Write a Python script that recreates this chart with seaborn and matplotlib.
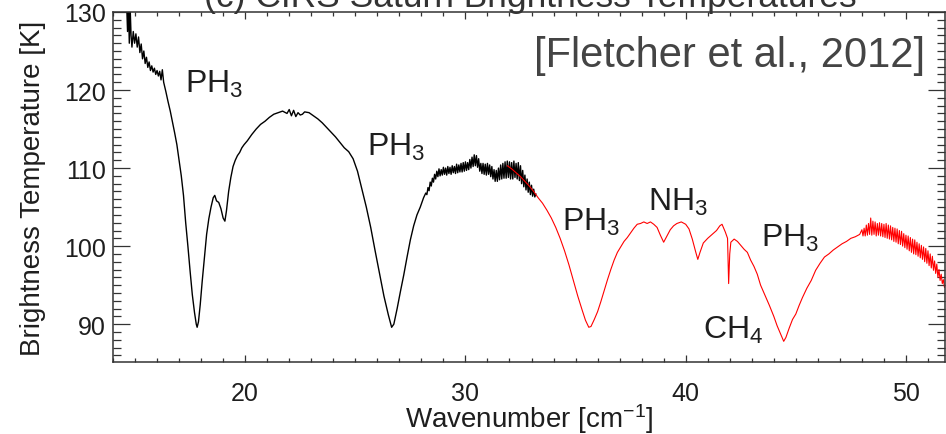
import matplotlib
matplotlib.use("Agg")
import matplotlib.pyplot as plt
from matplotlib.ticker import MultipleLocator
import seaborn as sns
import pandas as pd

# ---------------- data ----------------
# black spectrum, smooth part (incl. noisy start)
black_wn_a = [14.62, 14.66, 14.70, 14.74, 14.78, 14.82, 14.86, 14.92, 14.98, 15.04,
              15.10, 15.16, 15.22, 15.28, 15.34, 15.40, 15.46, 15.52, 15.58, 15.64,
              15.70, 15.76, 15.82, 15.88, 15.94, 16.00, 16.06, 16.12, 16.18, 16.24,
              16.30, 16.40, 16.50, 16.60, 16.70, 16.80, 16.90, 17.00, 17.10, 17.20,
              17.30, 17.40, 17.50, 17.60, 17.70, 17.78, 17.82, 17.88, 17.96, 18.05,
              18.15, 18.25, 18.35, 18.45, 18.55, 18.62, 18.70, 18.80, 18.90, 19.00,
              19.08, 19.15, 19.25, 19.35, 19.45, 19.55, 19.65, 19.75, 19.85, 19.95,
              20.10, 20.30, 20.50, 20.70, 20.90, 21.10, 21.30, 21.50, 21.70, 21.90,
              22.00, 22.10, 22.20, 22.30, 22.40, 22.50, 22.60, 22.70, 22.90, 23.10,
              23.30, 23.50, 23.70, 23.90, 24.10, 24.30, 24.50, 24.70, 24.90, 25.10,
              25.30, 25.50, 25.70, 25.90, 26.10, 26.30, 26.50, 26.65, 26.75, 26.90,
              27.05, 27.20, 27.35, 27.50, 27.65, 27.80, 27.95, 28.10]
black_tb_a = [131.0, 127.5, 131.0, 126.0, 130.5, 127.0, 125.5, 127.5, 126.0, 127.2,
              125.5, 126.8, 124.8, 125.9, 124.0, 125.0, 123.4, 124.2, 122.9, 123.6,
              122.5, 123.1, 122.3, 122.8, 122.0, 122.5, 121.8, 122.4, 121.3, 122.6,
              121.0, 119.8, 118.5, 117.3, 115.9, 114.5, 113.0, 111.0, 109.0, 106.5,
              103.0, 100.0, 96.8, 93.8, 91.5, 90.0, 89.6, 90.3, 92.5, 95.5,
              98.5, 101.5, 103.5, 105.0, 106.2, 106.5, 105.8, 105.6, 104.8, 103.6,
              103.2, 104.5, 107.0, 108.8, 110.2, 111.0, 111.6, 112.0, 112.6, 113.0,
              113.5, 114.3, 115.0, 115.6, 116.0, 116.5, 116.9, 117.1, 117.3, 117.0,
              117.5, 116.7, 117.4, 116.6, 117.1, 116.8, 116.9, 117.2, 117.1, 116.7,
              116.3, 115.8, 115.2, 114.6, 114.0, 113.3, 112.6, 112.1, 111.2, 109.6,
              107.3, 105.0, 102.4, 99.4, 96.5, 93.6, 91.2, 89.6, 90.0, 92.0,
              94.2, 96.3, 98.6, 100.8, 102.6, 104.0, 105.0, 106.2]
# black spectrum, noisy part 28.2 - 33.2
black_wn_b = [28.20, 28.25, 28.30, 28.35, 28.40, 28.45, 28.50, 28.55, 28.60, 28.65,
              28.70, 28.75, 28.80, 28.85, 28.90, 28.95, 29.00, 29.05, 29.10, 29.15,
              29.20, 29.25, 29.30, 29.35, 29.40, 29.45, 29.50, 29.55, 29.60, 29.65,
              29.70, 29.75, 29.80, 29.85, 29.90, 29.95, 30.00, 30.05, 30.10, 30.15,
              30.20, 30.25, 30.30, 30.35, 30.40, 30.45, 30.50, 30.55, 30.60, 30.65,
              30.70, 30.75, 30.80, 30.85, 30.90, 30.95, 31.00, 31.05, 31.10, 31.15,
              31.20, 31.25, 31.30, 31.35, 31.40, 31.45, 31.50, 31.55, 31.60, 31.65,
              31.70, 31.75, 31.80, 31.85, 31.90, 31.95, 32.00, 32.05, 32.10, 32.15,
              32.20, 32.25, 32.30, 32.35, 32.40, 32.45, 32.50, 32.55, 32.60, 32.65,
              32.70, 32.75, 32.80, 32.85, 32.90, 32.95, 33.00, 33.05, 33.10, 33.15,
              33.20]
black_tb_b = [106.8, 106.6, 107.5, 107.1, 108.2, 107.7, 108.7, 108.2, 109.2, 108.6,
              109.6, 108.9, 109.9, 109.0, 109.8, 109.1, 110.1, 109.2, 110.0, 109.1,
              110.2, 109.3, 110.1, 109.2, 110.3, 109.4, 110.2, 109.3, 110.5, 109.4,
              110.4, 109.5, 110.6, 109.5, 110.7, 109.6, 110.8, 109.7, 110.7, 109.8,
              111.1, 110.0, 111.4, 110.2, 111.7, 110.3, 111.6, 110.1, 111.2, 109.6,
              110.6, 109.3, 110.6, 109.2, 110.5, 109.1, 110.6, 109.2, 110.4, 108.9,
              110.2, 108.6, 109.8, 108.3, 109.7, 108.3, 110.0, 108.5, 110.4, 108.6,
              110.6, 108.7, 110.8, 108.7, 110.9, 108.8, 110.8, 108.6, 110.7, 108.6,
              110.9, 108.8, 110.6, 108.6, 110.7, 108.4, 110.3, 108.0, 109.7, 107.6,
              109.1, 107.2, 108.6, 106.9, 108.2, 106.6, 107.8, 106.4, 107.3, 106.3,
              106.7]

# red spectrum, smooth part
red_wn_a = [31.90, 32.10, 32.30, 32.50, 32.70, 32.90, 33.10, 33.30, 33.50, 33.70,
            33.90, 34.10, 34.30, 34.50, 34.70, 34.90, 35.10, 35.30, 35.45, 35.60,
            35.70, 35.85, 36.00, 36.15, 36.30, 36.45, 36.60, 36.75, 36.90, 37.05,
            37.20, 37.35, 37.50, 37.65, 37.80, 37.95, 38.10, 38.25, 38.40, 38.55,
            38.70, 38.85, 39.00, 39.15, 39.30, 39.45, 39.60, 39.80, 40.00, 40.15,
            40.30, 40.45, 40.55, 40.65, 40.80, 41.00, 41.20, 41.40, 41.55, 41.65,
            41.80, 41.90, 41.95, 42.00, 42.05, 42.20, 42.35, 42.50, 42.65, 42.80,
            42.95, 43.10, 43.25, 43.40, 43.60, 43.80, 44.00, 44.15, 44.30, 44.45,
            44.55, 44.70, 44.85, 45.00, 45.15, 45.30, 45.50, 45.70, 45.90, 46.10,
            46.30, 46.50, 46.70, 46.90, 47.10, 47.30, 47.50, 47.70, 47.90]
red_tb_a = [110.3, 109.9, 109.4, 108.9, 108.3, 107.7, 107.0, 106.2, 105.5, 104.6,
            103.6, 102.4, 101.0, 99.4, 97.6, 95.6, 93.6, 91.8, 90.5, 89.6,
            89.7, 90.6, 91.6, 92.9, 94.3, 95.7, 97.0, 98.2, 99.2, 99.9,
            100.6, 101.1, 101.7, 102.3, 102.8, 102.9, 103.1, 102.9, 103.1, 102.8,
            102.4, 101.4, 100.5, 101.3, 102.1, 102.6, 102.9, 103.1, 102.8, 102.2,
            100.9, 99.3, 98.3, 99.2, 100.4, 101.0, 101.5, 102.0, 102.6, 102.8,
            101.8, 101.0, 95.2, 99.0, 100.5, 100.9, 100.6, 100.1, 99.6, 99.2,
            98.2, 97.4, 96.4, 95.0, 93.7, 92.4, 91.0, 89.8, 88.8, 87.8,
            88.3, 89.5, 90.6, 91.3, 92.4, 93.4, 94.6, 95.6, 96.9, 97.8,
            98.6, 99.0, 99.5, 99.9, 100.3, 100.6, 101.0, 101.2, 101.5]
# red spectrum, noisy part 48.0 - 51.9
red_wn_b = [48.00, 48.05, 48.10, 48.15, 48.20, 48.25, 48.30, 48.35, 48.40, 48.45,
            48.50, 48.55, 48.60, 48.65, 48.70, 48.75, 48.80, 48.85, 48.90, 48.95,
            49.00, 49.05, 49.10, 49.15, 49.20, 49.25, 49.30, 49.35, 49.40, 49.45,
            49.50, 49.55, 49.60, 49.65, 49.70, 49.75, 49.80, 49.85, 49.90, 49.95,
            50.00, 50.05, 50.10, 50.15, 50.20, 50.25, 50.30, 50.35, 50.40, 50.45,
            50.50, 50.55, 50.60, 50.65, 50.70, 50.75, 50.80, 50.85, 50.90, 50.95,
            51.00, 51.05, 51.10, 51.15, 51.20, 51.25, 51.30, 51.35, 51.40, 51.45,
            51.50, 51.55, 51.60, 51.65, 51.70, 51.75, 51.80, 51.85, 51.90]
red_tb_b = [102.1, 101.3, 102.3, 101.3, 102.7, 101.4, 102.9, 101.5, 103.6, 101.4,
            103.2, 101.5, 103.1, 101.3, 102.9, 101.4, 103.0, 101.3, 102.9, 101.2,
            102.8, 101.1, 102.9, 101.0, 102.7, 100.9, 102.6, 100.8, 102.4, 100.6,
            102.3, 100.5, 102.2, 100.3, 102.0, 100.2, 101.9, 100.0, 101.6, 99.8,
            101.4, 99.6, 101.3, 99.4, 101.1, 99.2, 100.9, 99.0, 100.8, 98.9,
            100.5, 98.7, 100.3, 98.5, 100.1, 98.3, 99.9, 98.0, 99.7, 97.8,
            99.4, 97.5, 99.0, 97.2, 98.7, 96.9, 98.1, 96.5, 97.7, 96.0,
            97.0, 95.6, 96.4, 95.2, 95.7, 94.7, 94.9, 94.1, 93.8]

labels = ["PH$_3$", "PH$_3$", "PH$_3$", "NH$_3$", "CH$_4$", "PH$_3$"]
label_wn = [17.27, 25.55, 34.4, 38.3, 40.8, 43.4]
label_tb = [119.8, 111.7, 102.1, 104.7, 88.3, 100.0]

x_ticks = [20, 30, 40, 50]
y_ticks = [90, 100, 110, 120, 130]

title = "(c) CIRS Saturn Brightness Temperatures"
citation = "[Fletcher et al., 2012]"

# ---------------- style ----------------
sns.set_style("white")
plt.rcParams["font.family"] = ["Liberation Sans", "DejaVu Sans"]
plt.rcParams["mathtext.default"] = "regular"

fig = plt.figure(figsize=(9.46, 4.35), dpi=100)
W, H = 946, 435
ax = fig.add_axes([113 / W, 1 - 363 / H, (944.5 - 113) / W, (363 - 13) / H])

df_b = pd.DataFrame({"wn": black_wn_a + black_wn_b, "tb": black_tb_a + black_tb_b})
df_r = pd.DataFrame({"wn": red_wn_a + red_wn_b, "tb": red_tb_a + red_tb_b})
sns.lineplot(data=df_b, x="wn", y="tb", sort=False, estimator=None,
             color="black", lw=1.0, ax=ax)
sns.lineplot(data=df_r, x="wn", y="tb", sort=False, estimator=None,
             color="#ff0000", lw=0.8, ax=ax)

ax.set_xlim(14.0, 51.75)
ax.set_ylim(85.15, 130.0)
ax.set_xticks(x_ticks)
ax.set_yticks(y_ticks)
ax.xaxis.set_minor_locator(MultipleLocator(1))
ax.yaxis.set_minor_locator(MultipleLocator(1))
txt = "#1e1e1e"
ax.tick_params(axis="x", which="major", direction="in", length=5, width=0.9,
               top=True, bottom=True, labelsize=18, pad=14, colors="#333333",
               labelcolor=txt)
ax.tick_params(axis="x", which="minor", direction="in", length=2.6, width=0.9,
               top=True, bottom=True, colors="#333333")
ax.tick_params(axis="y", which="major", direction="in", length=12, width=0.9,
               left=True, right=True, labelsize=18, pad=5, colors="#333333",
               labelcolor=txt)
ax.tick_params(axis="y", which="minor", direction="in", length=6, width=0.9,
               left=True, right=True, colors="#333333")
for s in ax.spines.values():
    s.set_color("#333333")
    s.set_linewidth(1.1)

ax.set_xlabel("Wavenumber [cm$^{-1}$]", fontsize=20, color=txt, labelpad=-3)
ax.set_ylabel("Brightness Temperature [K]", fontsize=20, color=txt, labelpad=13)

for lab, xw, yt in zip(labels, label_wn, label_tb):
    ax.text(xw, yt, lab, fontsize=23, color=txt, ha="left", va="baseline")

fig.text(925 / W, 1 - 67 / H, citation, fontsize=30, color="#444444",
         ha="right", va="baseline")
fig.text(530 / W, 1 - 7 / H, title, fontsize=25.5, color="#333333",
         ha="center", va="baseline")

fig.savefig("out.png", dpi=100)
